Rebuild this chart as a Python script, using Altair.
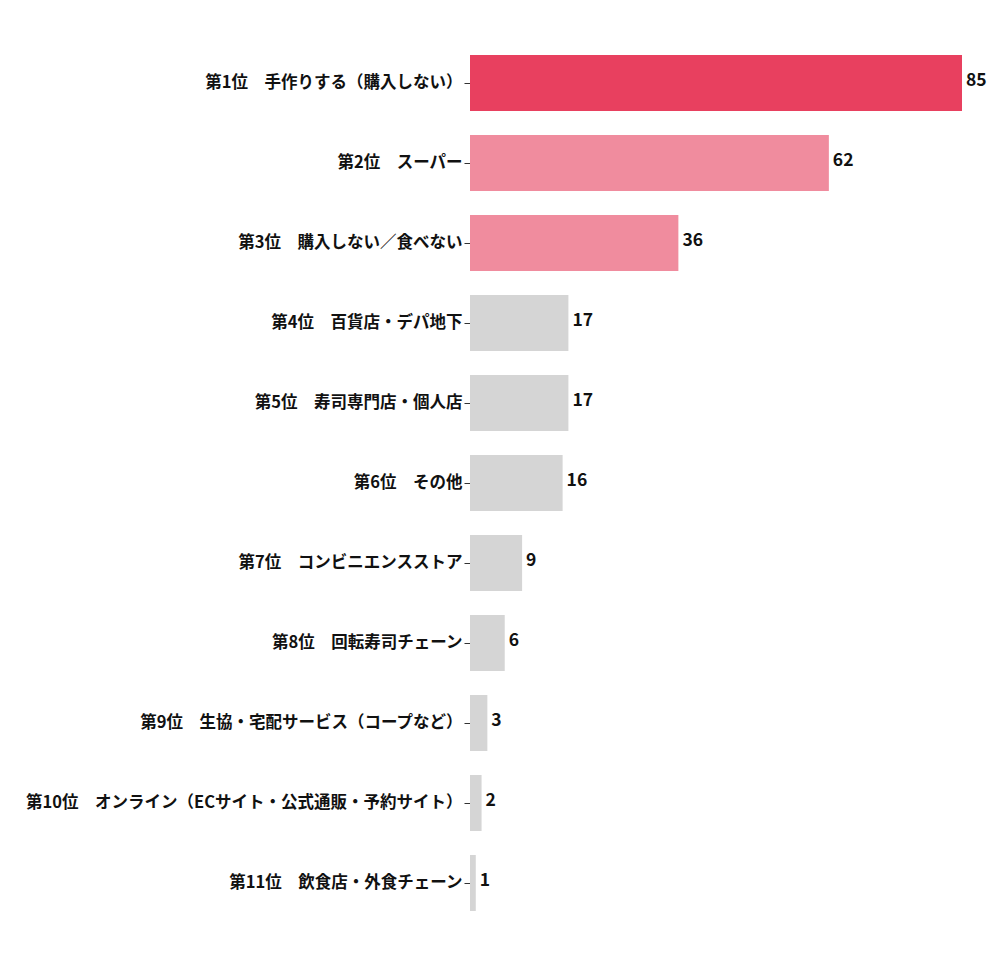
import altair as alt
import pandas as pd

labels = [
    "第1位　手作りする（購入しない）",
    "第2位　スーパー",
    "第3位　購入しない／食べない",
    "第4位　百貨店・デパ地下",
    "第5位　寿司専門店・個人店",
    "第6位　その他",
    "第7位　コンビニエンスストア",
    "第8位　回転寿司チェーン",
    "第9位　生協・宅配サービス（コープなど）",
    "第10位　オンライン（ECサイト・公式通販・予約サイト）",
    "第11位　飲食店・外食チェーン",
]
values = [85, 62, 36, 17, 17, 16, 9, 6, 3, 2, 1]
groups = ["top", "mid", "mid", "low", "low", "low", "low", "low", "low", "low", "low"]
group_colors = {"top": "#E8405F", "mid": "#F08C9E", "low": "#D5D5D5"}

df = pd.DataFrame({"label": labels, "value": values, "group": groups})

font = "Noto Sans CJK JP"

y = alt.Y("label:N", sort=labels, title=None,
          scale=alt.Scale(paddingInner=0.3, paddingOuter=0.15),
          axis=alt.Axis(domain=False, ticks=True, tickSize=6, tickColor="#333333",
                        labelFont=font, labelFontSize=16.5, labelFontWeight="bold",
                        labelColor="#111111", labelPadding=2, labelLimit=500))
x = alt.X("value:Q", title=None, scale=alt.Scale(domain=[0, 85], nice=False), axis=None)

bars = alt.Chart(df).mark_bar().encode(
    x=x, y=y,
    color=alt.Color("group:N", legend=None,
                    scale=alt.Scale(domain=list(group_colors.keys()),
                                    range=list(group_colors.values()))),
)
text = alt.Chart(df).mark_text(align="left", baseline="middle", dx=4, dy=-2,
                               font=font, fontSize=17.5, fontWeight="bold",
                               color="#111111").encode(
    x=x, y=y, text=alt.Text("value:Q"))

chart = (bars + text).properties(
    width=492, height=880,
    autosize=alt.AutoSizeParams(type="none"),
    padding={"left": 462, "top": 35, "right": 30, "bottom": 30},
).configure_view(stroke=None)

chart.save("out.html", embed_options={"renderer": "svg", "actions": False})
